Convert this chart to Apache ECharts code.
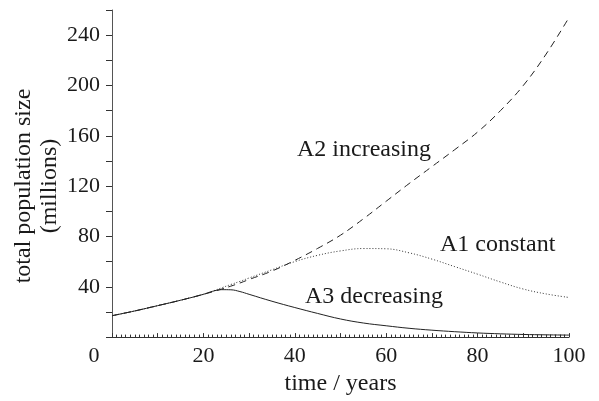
<!DOCTYPE html>
<html>
<head>
<meta charset="utf-8">
<script src="https://cdn.jsdelivr.net/npm/echarts@6/dist/echarts.min.js"></script>
<style>
  html, body { margin: 0; padding: 0; background: #fff; }
  #chart { width: 599px; height: 401px; }
</style>
</head>
<body>
<div id="chart"></div>
<script>
// Projected total population (millions) over 100 years under three scenarios
const years = [0, 5, 10, 15, 20, 22, 24, 26, 28, 30, 35, 40, 45, 50, 55, 60, 65, 70, 75, 80, 85, 90, 95, 100];

// A1: constant
const a1Constant = [17, 20.8, 25, 29.3, 34, 36.5, 39.2, 41.8, 44.3, 47, 53.5, 60, 65, 68.5, 70.4, 70.2, 67, 62, 56, 50, 43.8, 38.2, 34.3, 31.5];
// A2: increasing
const a2Increasing = [17, 20.8, 25, 29.3, 34, 36, 38.2, 40.5, 43, 45.8, 52.5, 61, 70.5, 81, 94, 108, 122, 135.5, 149, 163, 180, 200, 225, 254];
// A3: decreasing
const a3Decreasing = [17, 20.8, 25, 29.3, 34, 36.4, 37.7, 37.6, 36.2, 34, 28.5, 23.5, 18.8, 14.4, 11.2, 9, 7, 5.5, 4.3, 3.3, 2.6, 2.1, 1.8, 1.6];

const yTickLabels = [40, 80, 120, 160, 200, 240];
const xTickLabels = [0, 20, 40, 60, 80, 100];

const FONT = "'Liberation Serif', 'Times New Roman', serif";
const INK = '#1a1a1a';

function pairs(values) {
  return years.map((t, i) => [t, values[i]]);
}

const chart = echarts.init(document.getElementById('chart'), null, { renderer: 'canvas' });

chart.setOption({
  animation: false,
  backgroundColor: '#fff',
  grid: { left: 112, right: 30, top: 10, bottom: 60, containLabel: false },
  xAxis: {
    type: 'value',
    min: 0,
    max: 100,
    interval: 10,
    name: 'time / years',
    nameLocation: 'middle',
    nameGap: 32,
    nameTextStyle: { fontFamily: FONT, fontSize: 24, color: INK },
    axisLine: { lineStyle: { color: '#333', width: 1 } },
    axisTick: { show: true, inside: true, length: 4, lineStyle: { color: '#333' } },
    minorTick: { show: true, splitNumber: 10, length: 2.5, lineStyle: { color: '#333' } },
    splitLine: { show: false },
    minorSplitLine: { show: false },
    axisLabel: {
      margin: 8,
      fontFamily: FONT,
      fontSize: 22,
      color: INK,
      formatter: v => {
        if (v === 0) return '{z|0}';
        return xTickLabels.includes(v) ? String(v) : '';
      },
      rich: {
        z: { fontFamily: FONT, fontSize: 22, color: INK, padding: [0, 36, 0, 0] }
      }
    }
  },
  yAxis: {
    type: 'value',
    min: 0,
    max: 260,
    interval: 20,
    axisLine: { show: true, lineStyle: { color: '#555', width: 1 } },
    axisTick: { show: true, inside: false, length: 6, lineStyle: { color: '#333' } },
    splitLine: { show: false },
    axisLabel: {
      margin: 12,
      fontFamily: FONT,
      fontSize: 22,
      color: INK,
      formatter: v => (yTickLabels.includes(v) ? String(v) : '')
    }
  },
  series: [
    {
      name: 'A1 constant',
      type: 'line',
      data: pairs(a1Constant),
      smooth: 0.4,
      showSymbol: false,
      lineStyle: { color: '#333', width: 1, type: [1, 2] },
      z: 3
    },
    {
      name: 'A2 increasing',
      type: 'line',
      data: pairs(a2Increasing),
      smooth: 0.4,
      showSymbol: false,
      lineStyle: { color: '#222', width: 1, type: [7, 5] },
      z: 2
    },
    {
      name: 'A3 decreasing',
      type: 'line',
      data: pairs(a3Decreasing),
      smooth: 0.4,
      showSymbol: false,
      lineStyle: { color: '#222', width: 1, type: 'solid' },
      z: 4
    }
  ],
  graphic: [
    {
      type: 'text',
      x: 37,
      y: 186,
      rotation: Math.PI / 2,
      style: {
        text: 'total population size\n(millions)',
        fontFamily: FONT,
        fontSize: 24,
        lineHeight: 26,
        fill: INK,
        align: 'center',
        verticalAlign: 'middle'
      }
    },
    {
      type: 'text',
      x: 297,
      y: 150,
      style: { text: 'A2 increasing', fontFamily: FONT, fontSize: 24, fill: INK, align: 'left', verticalAlign: 'middle' }
    },
    {
      type: 'text',
      x: 440,
      y: 245,
      style: { text: 'A1 constant', fontFamily: FONT, fontSize: 24, fill: INK, align: 'left', verticalAlign: 'middle' }
    },
    {
      type: 'text',
      x: 305,
      y: 297,
      style: { text: 'A3 decreasing', fontFamily: FONT, fontSize: 24, fill: INK, align: 'left', verticalAlign: 'middle' }
    }
  ]
});
</script>
</body>
</html>
